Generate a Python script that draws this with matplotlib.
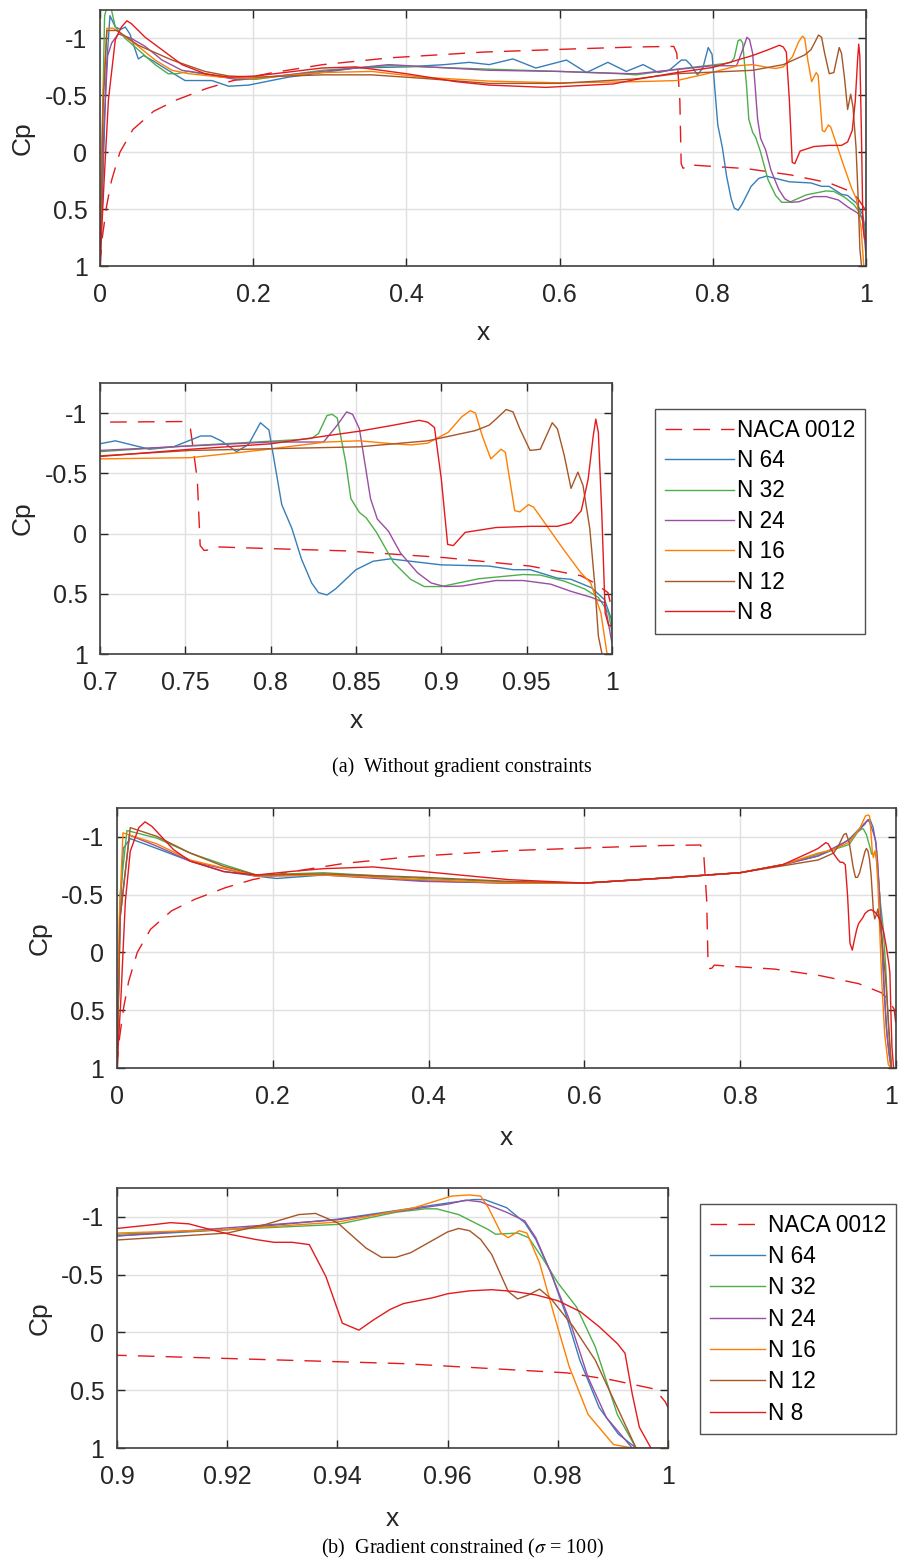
import matplotlib
matplotlib.use('Agg')
import matplotlib.pyplot as plt
from matplotlib.transforms import ScaledTranslation

plt.rcParams['font.family'] = ['Liberation Sans', 'DejaVu Sans']
plt.rcParams['mathtext.fontset'] = 'stix'

# ---------------- data ----------------
naca_x = [0, 0.003, 0.0087, 0.015, 0.026, 0.043, 0.07, 0.10, 0.139, 0.174, 0.226, 0.291, 0.379, 0.5, 0.627,
          0.70, 0.749, 0.753, 0.757, 0.7587, 0.761, 0.7637, 0.7667, 0.80, 0.844, 0.902, 0.952, 0.9817, 0.9897,
          0.9976, 0.9995, 1.0]
naca_cp = [1.0, 0.75, 0.47, 0.25, 0.0, -0.2, -0.36, -0.46, -0.56, -0.63, -0.70, -0.77, -0.83, -0.88, -0.91,
           -0.925, -0.93, -0.87, -0.45, 0.10, 0.14, 0.136, 0.11, 0.125, 0.144, 0.2, 0.27, 0.35, 0.41,
           0.49, 0.6, 0.65]

# (a) without gradient constraints
a_n64_x = [0, 0.004, 0.008, 0.013, 0.02, 0.027, 0.033, 0.039, 0.05, 0.057, 0.07, 0.089, 0.111, 0.129, 0.146,
           0.168, 0.194, 0.246, 0.334, 0.40, 0.45, 0.482, 0.508, 0.539, 0.569, 0.609, 0.635, 0.663, 0.687, 0.709,
           0.729, 0.743, 0.759, 0.765, 0.771, 0.780, 0.787, 0.794, 0.799, 0.8065, 0.8125, 0.818, 0.824, 0.828,
           0.833, 0.838, 0.850, 0.860, 0.870, 0.882, 0.90, 0.928, 0.942, 0.952, 0.968, 0.976, 0.988, 0.9957,
           0.9996, 1.0]
a_n64_cp = [1.0, 0.2, -0.7, -1.20, -1.10, -1.08, -1.10, -1.04, -0.82, -0.85, -0.80, -0.72, -0.63, -0.63, -0.63,
            -0.58, -0.59, -0.66, -0.74, -0.75, -0.77, -0.79, -0.77, -0.82, -0.74, -0.81, -0.70, -0.79, -0.71, -0.77,
            -0.70, -0.72, -0.81, -0.81, -0.77, -0.68, -0.74, -0.92, -0.86, -0.24, -0.04, 0.21, 0.41, 0.49,
            0.51, 0.46, 0.30, 0.23, 0.21, 0.23, 0.26, 0.27, 0.30, 0.30, 0.37, 0.38, 0.45, 0.55,
            0.71, 0.8]
a_n32_x = [0, 0.003, 0.006, 0.01, 0.015, 0.02, 0.033, 0.05, 0.072, 0.089, 0.10, 0.116, 0.159, 0.203, 0.29,
           0.377, 0.508, 0.6, 0.679, 0.70, 0.753, 0.8165, 0.824, 0.828, 0.833, 0.836, 0.839, 0.844, 0.847, 0.852,
           0.856, 0.862, 0.872, 0.882, 0.89, 0.90, 0.922, 0.948, 0.958, 0.972, 0.984, 0.992, 0.998, 1.0]
a_n32_cp = [1.0, -0.2, -1.2, -1.3, -1.25, -1.10, -1.0, -0.90, -0.77, -0.69, -0.69, -0.71, -0.66, -0.64, -0.72,
            -0.76, -0.73, -0.71, -0.69, -0.68, -0.73, -0.78, -0.79, -0.83, -0.98, -0.99, -0.96, -0.59, -0.29, -0.175,
            -0.13, -0.01, 0.24, 0.38, 0.44, 0.44, 0.375, 0.34, 0.345, 0.395, 0.46, 0.53, 0.66, 0.82]
a_n24_x = [0, 0.005, 0.01, 0.0153, 0.024, 0.041, 0.059, 0.081, 0.107, 0.137, 0.181, 0.246, 0.377, 0.508, 0.6,
           0.692, 0.70, 0.80, 0.821, 0.831, 0.839, 0.8445, 0.848, 0.852, 0.8585, 0.8625, 0.869, 0.876, 0.886,
           0.894, 0.902, 0.912, 0.932, 0.948, 0.964, 0.976, 0.988, 0.9957, 1.0]
a_n24_cp = [1.0, -0.2, -0.85, -0.96, -1.04, -1.0, -0.93, -0.81, -0.72, -0.69, -0.635, -0.68, -0.77, -0.72, -0.71,
            -0.69, -0.69, -0.76, -0.76, -0.76, -0.90, -1.01, -0.99, -0.87, -0.29, -0.12, -0.02, 0.16, 0.325,
            0.41, 0.44, 0.436, 0.39, 0.39, 0.42, 0.48, 0.53, 0.575, 0.91]
a_n16_x = [0, 0.004, 0.009, 0.017, 0.028, 0.05, 0.072, 0.094, 0.116, 0.159, 0.203, 0.29, 0.355, 0.42, 0.508,
           0.6, 0.70, 0.753, 0.7925, 0.8324, 0.852, 0.872, 0.882, 0.892, 0.904, 0.912, 0.917, 0.92, 0.924, 0.929,
           0.935, 0.9375, 0.943, 0.946, 0.951, 0.954, 0.962, 0.9715, 0.9817, 0.9875, 0.9935, 0.997, 1.0]
a_n16_cp = [1.0, -0.5, -1.09, -1.09, -1.04, -0.93, -0.81, -0.72, -0.69, -0.66, -0.65, -0.70, -0.71, -0.66, -0.625,
            -0.61, -0.62, -0.63, -0.69, -0.76, -0.77, -0.745, -0.736, -0.75, -0.84, -0.97, -1.02, -1.0, -0.81, -0.62,
            -0.70, -0.675, -0.19, -0.18, -0.24, -0.22, -0.06, 0.13, 0.325, 0.41, 0.66, 0.99, 1.3]
a_n12_x = [0, 0.004, 0.009, 0.022, 0.05, 0.094, 0.137, 0.168, 0.203, 0.29, 0.355, 0.42, 0.508, 0.6, 0.70,
           0.753, 0.852, 0.892, 0.92, 0.928, 0.932, 0.938, 0.942, 0.946, 0.952, 0.958, 0.965, 0.968, 0.972, 0.976,
           0.98, 0.983, 0.987, 0.99, 0.992, 0.994, 1.0]
a_n12_cp = [1.0, -0.4, -1.07, -1.07, -0.94, -0.81, -0.71, -0.67, -0.66, -0.68, -0.68, -0.65, -0.605, -0.605, -0.645,
            -0.69, -0.72, -0.77, -0.855, -0.90, -0.95, -1.03, -1.01, -0.87, -0.69, -0.70, -0.92, -0.87, -0.65, -0.375,
            -0.51, -0.40, -0.04, 0.44, 0.85, 0.99, 1.3]
a_n8_x = [0, 0.005, 0.011, 0.02, 0.028, 0.035, 0.041, 0.059, 0.081, 0.107, 0.137, 0.168, 0.203, 0.29, 0.334,
          0.40, 0.465, 0.508, 0.582, 0.67, 0.70, 0.753, 0.80, 0.832, 0.852, 0.872, 0.887, 0.892, 0.896, 0.90,
          0.9037, 0.907, 0.914, 0.932, 0.952, 0.968, 0.976, 0.982, 0.986, 0.989, 0.9905, 0.992, 0.994, 0.996, 0.998,
          1.0]
a_n8_cp = [1.0, 0.3, -0.46, -0.99, -1.10, -1.155, -1.13, -1.01, -0.90, -0.77, -0.69, -0.66, -0.67, -0.74, -0.75,
           -0.69, -0.62, -0.59, -0.57, -0.60, -0.64, -0.70, -0.745, -0.81, -0.85, -0.90, -0.94, -0.925, -0.88, -0.45,
           0.09, 0.10, -0.01, -0.05, -0.06, -0.06, -0.09, -0.19, -0.45, -0.81, -0.95, -0.84, -0.175, 0.66, 0.76,
           0.77]

# (b) gradient constrained (sigma = 100)
b_n64_x = [0, 0.004, 0.008, 0.017, 0.051, 0.094, 0.137, 0.179, 0.205, 0.265, 0.307, 0.393, 0.503, 0.6, 0.705,
           0.8, 0.855, 0.90, 0.92, 0.94, 0.96, 0.9647, 0.9667, 0.9707, 0.974, 0.976, 0.9788, 0.9814, 0.984, 0.9875,
           0.991, 0.9942, 1.0]
b_n64_cp = [1.0, -0.3, -0.9, -0.985, -0.90, -0.79, -0.70, -0.66, -0.64, -0.67, -0.67, -0.62, -0.60, -0.60, -0.645,
            -0.69, -0.76, -0.835, -0.89, -0.98, -1.12, -1.15, -1.15, -1.08, -0.95, -0.805, -0.51, -0.166, 0.24, 0.65,
            0.88, 1.0, 1.05]
b_n32_x = [0, 0.004, 0.0128, 0.051, 0.094, 0.137, 0.179, 0.265, 0.393, 0.503, 0.6, 0.705, 0.8, 0.855, 0.90,
           0.92, 0.94, 0.9506, 0.956, 0.958, 0.962, 0.9674, 0.9687, 0.9727, 0.9747, 0.9774, 0.98, 0.9834, 0.9868,
           0.9908, 0.9942, 1.0]
b_n32_cp = [1.0, -0.5, -1.055, -0.99, -0.86, -0.76, -0.67, -0.69, -0.64, -0.61, -0.60, -0.645, -0.69, -0.76, -0.85,
            -0.89, -0.935, -1.04, -1.07, -1.07, -1.02, -0.89, -0.85, -0.86, -0.82, -0.63, -0.43, -0.22, 0.125,
            0.71, 1.0, 1.05]
b_n24_x = [0, 0.004, 0.016, 0.051, 0.094, 0.179, 0.265, 0.393, 0.503, 0.6, 0.705, 0.8, 0.855, 0.90, 0.94,
           0.96, 0.9633, 0.966, 0.9707, 0.974, 0.976, 0.9788, 0.9821, 0.9855, 0.9888, 0.9935, 1.0]
b_n24_cp = [1.0, -0.3, -1.015, -0.92, -0.79, -0.66, -0.67, -0.615, -0.60, -0.60, -0.645, -0.69, -0.76, -0.835, -0.975,
            -1.11, -1.145, -1.13, -1.04, -0.965, -0.82, -0.51, -0.11, 0.39, 0.735, 1.0, 1.05]
b_n16_x = [0, 0.003, 0.0077, 0.051, 0.094, 0.137, 0.179, 0.265, 0.393, 0.503, 0.6, 0.705, 0.8, 0.855, 0.90,
           0.92, 0.94, 0.954, 0.9607, 0.964, 0.966, 0.9674, 0.9697, 0.971, 0.973, 0.9744, 0.9767, 0.9794, 0.9821,
           0.9855, 0.9901, 0.9935, 0.997, 1.0]
b_n16_cp = [1.0, -0.3, -1.035, -0.94, -0.80, -0.73, -0.66, -0.67, -0.63, -0.60, -0.60, -0.645, -0.69, -0.76, -0.86,
            -0.89, -0.955, -1.08, -1.18, -1.19, -1.18, -1.08, -0.86, -0.82, -0.88, -0.86, -0.60, -0.14, 0.30,
            0.71, 0.97, 1.0, 1.0, 1.0]
b_n12_x = [0, 0.004, 0.017, 0.051, 0.094, 0.137, 0.179, 0.265, 0.393, 0.503, 0.6, 0.705, 0.8, 0.855, 0.90,
           0.92, 0.927, 0.933, 0.936, 0.94, 0.9452, 0.948, 0.9506, 0.9533, 0.96, 0.962, 0.964, 0.966, 0.968, 0.971,
           0.9727, 0.9747, 0.9767, 0.9788, 0.9828, 0.9868, 0.9908, 0.9942, 1.0]
b_n12_cp = [1.0, -0.3, -1.08, -1.005, -0.86, -0.745, -0.67, -0.68, -0.65, -0.615, -0.60, -0.645, -0.69, -0.75, -0.80,
            -0.86, -0.935, -1.02, -1.03, -0.95, -0.73, -0.65, -0.65, -0.69, -0.87, -0.90, -0.88, -0.805, -0.675, -0.355,
            -0.29, -0.325, -0.375, -0.29, -0.05, 0.24, 0.65, 1.0, 1.05]
b_n8_x = [0, 0.005, 0.0107, 0.017, 0.028, 0.036, 0.045, 0.0725, 0.094, 0.137, 0.179, 0.222, 0.265, 0.329, 0.393,
          0.503, 0.6, 0.705, 0.8, 0.855, 0.894, 0.90, 0.907, 0.9097, 0.913, 0.917, 0.9204, 0.9251, 0.9285, 0.9318,
          0.9349, 0.9379, 0.9409, 0.9439, 0.9466, 0.9496, 0.952, 0.9573, 0.96, 0.964, 0.968, 0.972, 0.976, 0.98,
          0.9841, 0.9875, 0.9908, 0.9922, 0.9935, 0.9948, 0.9969, 1.0]
b_n8_cp = [1.0, 0.4, -0.44, -0.875, -1.08, -1.13, -1.09, -0.89, -0.79, -0.70, -0.67, -0.70, -0.725, -0.74, -0.70,
           -0.63, -0.60, -0.645, -0.69, -0.76, -0.88, -0.90, -0.935, -0.95, -0.94, -0.89, -0.85, -0.805, -0.78, -0.78,
           -0.76, -0.485, -0.08, -0.02, -0.11, -0.20, -0.25, -0.30, -0.335, -0.36, -0.37, -0.355, -0.325, -0.275,
           -0.18, -0.05, 0.096, 0.18, 0.53, 0.82, 1.0, 1.05]

labels = ['NACA 0012', 'N 64', 'N 32', 'N 24', 'N 16', 'N 12', 'N 8']
colors = ['#e41a1c', '#377eb8', '#4daf4a', '#984ea3', '#ff7f00', '#a65628', '#e41a1c']

yticks = [-1, -0.5, 0, 0.5, 1]
yticklabels = ['-1', '-0.5', '0', '0.5', '1']
full_xticks = [0, 0.2, 0.4, 0.6, 0.8, 1.0]
full_xticklabels = ['0', '0.2', '0.4', '0.6', '0.8', '1']
zoom_a_xticks = [0.7, 0.75, 0.8, 0.85, 0.9, 0.95, 1.0]
zoom_a_xticklabels = ['0.7', '0.75', '0.8', '0.85', '0.9', '0.95', '1']
zoom_b_xticks = [0.9, 0.92, 0.94, 0.96, 0.98, 1.0]
zoom_b_xticklabels = ['0.9', '0.92', '0.94', '0.96', '0.98', '1']

set_a = [(a_n64_x, a_n64_cp), (a_n32_x, a_n32_cp), (a_n24_x, a_n24_cp),
         (a_n16_x, a_n16_cp), (a_n12_x, a_n12_cp), (a_n8_x, a_n8_cp)]
set_b = [(b_n64_x, b_n64_cp), (b_n32_x, b_n32_cp), (b_n24_x, b_n24_cp),
         (b_n16_x, b_n16_cp), (b_n12_x, b_n12_cp), (b_n8_x, b_n8_cp)]

W, H = 899, 1566
fig = plt.figure(figsize=(W / 100, H / 100), dpi=100)

TXT = '#262626'


def add_axes(left, top, right, bottom):
    return fig.add_axes([left / W, 1 - bottom / H, (right - left) / W, (bottom - top) / H])


def draw(ax, series, xlim, xticks, xticklabels, xlabelpad):
    ax.plot(naca_x, naca_cp, color=colors[0], lw=1.0, dashes=(12, 8), label=labels[0])
    for (xs, cps), c, lab in zip(series, colors[1:], labels[1:]):
        ax.plot(xs, cps, color=c, lw=1.0, label=lab)
    ax.set_xlim(*xlim)
    ax.set_ylim(1, -1.25)
    ax.set_xticks(xticks)
    ax.set_xticklabels(xticklabels)
    ax.set_yticks(yticks)
    ax.set_yticklabels(yticklabels)
    ax.grid(True, color='#e0e0e0', lw=1.0)
    ax.set_axisbelow(True)
    ax.tick_params(direction='in', length=6, width=1, top=True, right=True,
                   labelsize=18, colors=TXT)
    ax.tick_params(axis='x', pad=12.5)
    ax.tick_params(axis='y', pad=9)
    for s in ax.spines.values():
        s.set_color('#404040')
        s.set_linewidth(1.2)
    ax.set_xlabel('x', fontsize=19, color=TXT, labelpad=xlabelpad)
    ax.set_ylabel('Cp', fontsize=19, color=TXT, labelpad=7)


ax1 = add_axes(100, 10, 866, 266)
draw(ax1, set_a, (0, 1), full_xticks, full_xticklabels, 10)
ax2 = add_axes(100, 383, 612, 654)
draw(ax2, set_a, (0.7, 1), zoom_a_xticks, zoom_a_xticklabels, 10)
ax3 = add_axes(117, 808, 896, 1068)
draw(ax3, set_b, (0, 1), full_xticks, full_xticklabels, 12)
ax4 = add_axes(117, 1188, 668, 1448)
draw(ax4, set_b, (0.9, 1), zoom_b_xticks, zoom_b_xticklabels, 13)

# keep the last tick label of the wide lower panel inside the figure
last = ax3.get_xticklabels()[-1]
last.set_transform(last.get_transform() + ScaledTranslation(-5 / 100, 0, fig.dpi_scale_trans))


def legend_at(ax, left, top, handlelength, labelspacing):
    h, l = ax.get_legend_handles_labels()
    leg = fig.legend(h, l, loc='upper left', bbox_to_anchor=(left / W, 1 - top / H),
                     bbox_transform=fig.transFigure, frameon=True, fancybox=False,
                     edgecolor='#262626', fontsize=16.3, handlelength=handlelength, handletextpad=0.15,
                     labelspacing=labelspacing, borderpad=0.42, borderaxespad=0)
    leg.get_frame().set_linewidth(1.0)
    for t in leg.get_texts():
        t.set_color('black')
    return leg


legend_at(ax2, 655, 409, 3.05, 0.33)
legend_at(ax4, 700, 1204, 2.45, 0.37)

fig.text(462 / W, 1 - 767 / H, '(a)  Without gradient constraints', ha='center', va='center',
         family=['Liberation Serif', 'DejaVu Serif'], fontsize=14.5)
fig.text(462 / W, 1 - 1548 / H, r'(b)  Gradient constrained ($\sigma$ = 100)', ha='center', va='center',
         family=['Liberation Serif', 'DejaVu Serif'], fontsize=14.5)

fig.savefig('out.png', dpi=100)
